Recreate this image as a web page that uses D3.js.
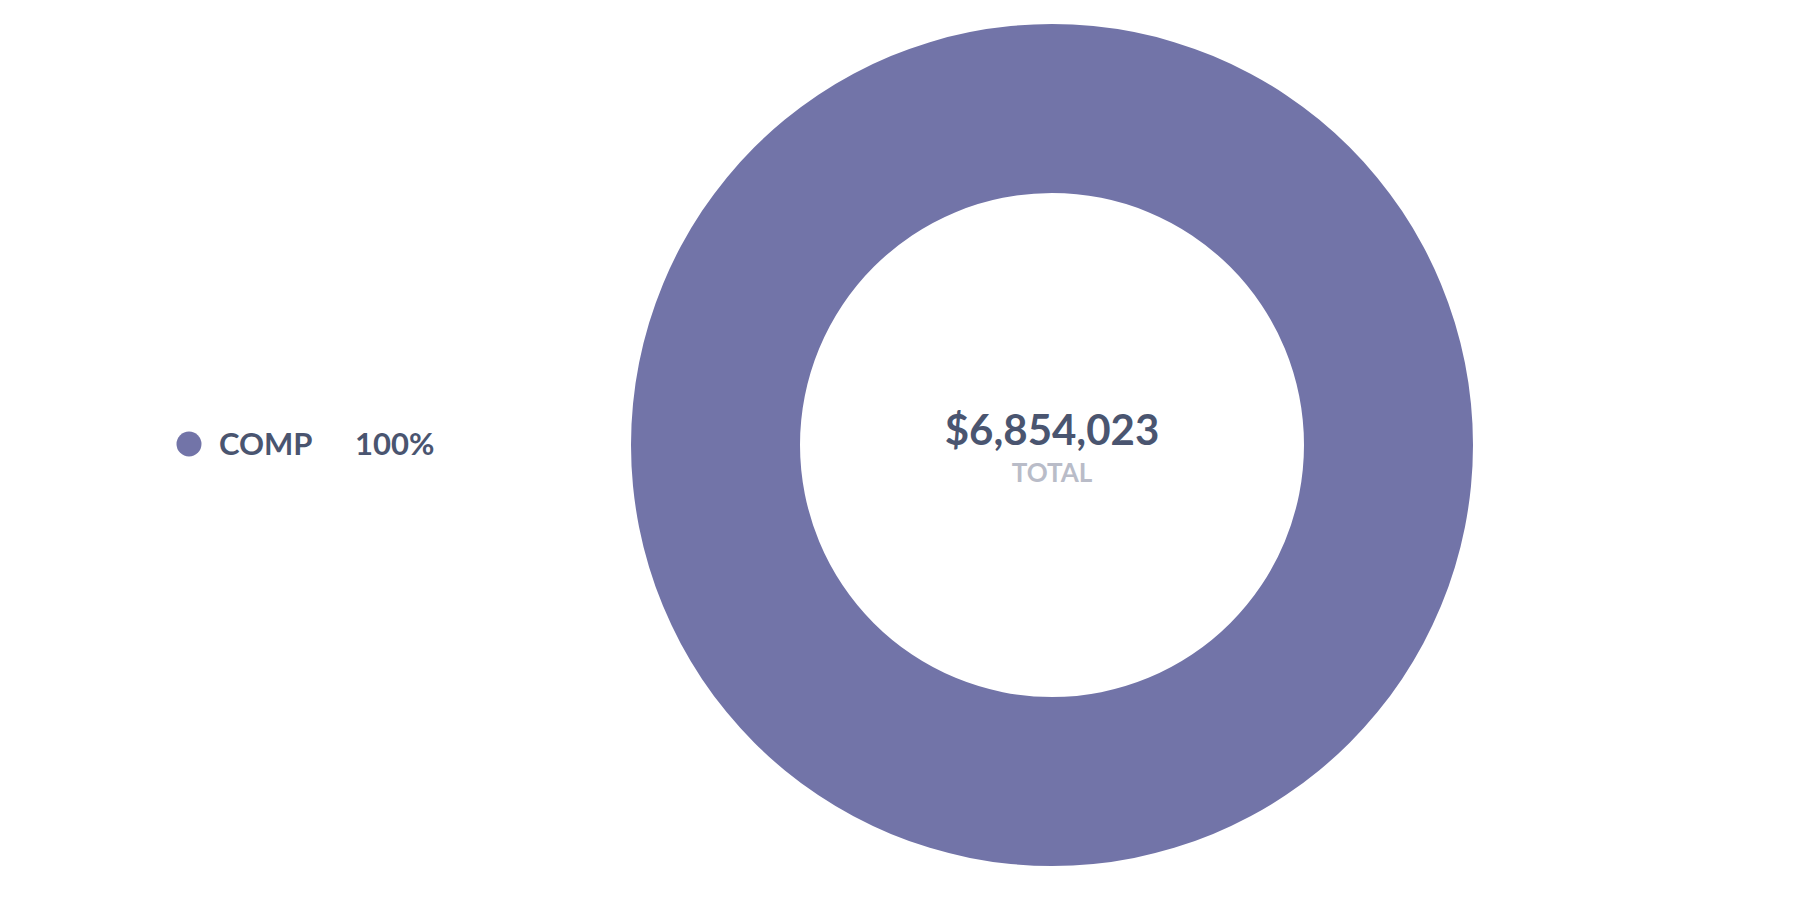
<!DOCTYPE html>
<html>
<head>
<meta charset="utf-8">
<script src="https://cdn.jsdelivr.net/npm/d3@7"></script>
<style>
  html, body { margin: 0; padding: 0; background: #fff; }
  svg { display: block; font-family: Lato, "Open Sans", sans-serif; }
</style>
</head>
<body>
<div id="chart"></div>
<script>
// donut data
const categories = ["COMP"];
const values = [6854023];
const colors = ["#7274a8"];
const centerLabel = "TOTAL";

const width = 1804, height = 902;
const cx = 1052, cy = 445,
      outerR = 421, innerR = 252;

const total = d3.sum(values);
const data = categories.map((c, i) => ({ name: c, value: values[i], color: colors[i] }));

let svg = d3.select("#chart")
    .append("svg")
    .attr("width", width)
    .attr("height", height)
    .attr("viewBox", [0, 0, width, height]);

let pie = d3.pie().value(d => d.value).sort(null);
let arc = d3.arc().innerRadius(innerR).outerRadius(outerR);

svg.append("g")
    .attr("transform", `translate(${cx},${cy})`)
    .selectAll("path")
    .data(pie(data))
    .join("path")
    .attr("fill", d => d.data.color)
    .attr("d", arc);

// center text
svg.append("text")
    .attr("x", cx)
    .attr("y", cy)
    .attr("text-anchor", "middle")
    .attr("font-size", 42)
    .attr("font-weight", 700)
    .attr("fill", "#4a5570")
    .text(d3.format("$,")(total));

svg.append("text")
    .attr("x", cx)
    .attr("y", cy + 37)
    .attr("text-anchor", "middle")
    .attr("font-size", 26)
    .attr("font-weight", 700)
    .attr("fill", "#b9bcc8")
    .text(centerLabel);

// legend
let legend = svg.selectAll(".legend")
    .data(data)
    .join("g")
    .attr("class", "legend")
    .attr("transform", (d, i) => `translate(189,${444 + i * 44})`);

legend.append("circle")
    .attr("r", 12.5)
    .attr("fill", d => d.color);

legend.append("text")
    .attr("x", 30)
    .attr("y", 11)
    .attr("font-size", 31)
    .attr("font-weight", 700)
    .attr("fill", "#4a5570")
    .text(d => d.name);

legend.append("text")
    .attr("x", 166)
    .attr("y", 11)
    .attr("font-size", 31)
    .attr("font-weight", 700)
    .attr("fill", "#4a5570")
    .text(d => d3.format(".0%")(d.value / total));
</script>
</body>
</html>
